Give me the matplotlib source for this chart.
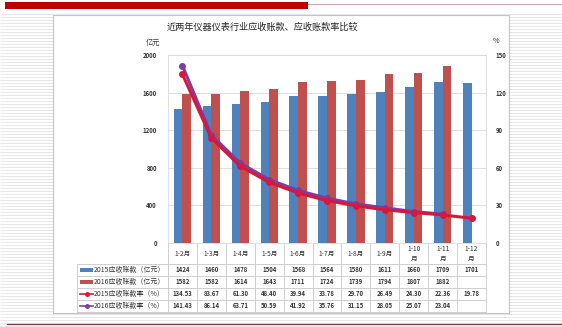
import numpy as np
import matplotlib.pyplot as plt
from matplotlib.patches import Rectangle
from matplotlib.transforms import blended_transform_factory

plt.rcParams['font.family'] = ['Noto Sans CJK SC', 'DejaVu Sans']

categories = ['1-2月', '1-3月', '1-4月', '1-5月', '1-6月', '1-7月', '1-8月',
              '1-9月', '1-10\n月', '1-11\n月', '1-12\n月']
recv_2015 = [1424, 1460, 1478, 1504, 1568, 1564, 1580, 1611, 1660, 1709, 1701]
recv_2016 = [1582, 1582, 1614, 1643, 1711, 1724, 1739, 1794, 1807, 1882]
rate_2015 = [134.53, 83.67, 61.30, 48.40, 39.94, 33.78, 29.70, 26.49, 24.30, 22.36, 19.78]
rate_2016 = [141.43, 86.14, 63.71, 50.59, 41.92, 35.76, 31.15, 28.05, 25.07, 23.04]

row_names = ['2015应收账款（亿元）', '2016应收账款（亿元）',
             '2015应收账款率（%）', '2016应收账款率（%）']

BLUE = '#4F81BD'
RED = '#C0504D'
LINE_RED = '#D8173C'
LINE_PURPLE = '#7A3FA0'
GRID = '#d9d9d9'

W, H = 562, 327
fig = plt.figure(figsize=(W / 100, H / 100), dpi=100)

# slide background in pixel coordinates
bg = fig.add_axes([0, 0, 1, 1], zorder=-10)
bg.set_xlim(0, W)
bg.set_ylim(H, 0)
bg.axis('off')
bg.hlines(np.arange(1.5, H, 3), 0, W, color='#e3e3e3', lw=0.6, zorder=0)
bg.add_patch(Rectangle((0, 0), W, 12, color='white', lw=0, zorder=1))
bg.add_patch(Rectangle((5, 2), 303, 7, color='#C00000', lw=0, zorder=2))
bg.plot([308, W], [3.5, 3.5], color='#c09a9a', lw=0.6, zorder=2)
bg.plot([7, W], [324, 324], color='#7a3c3c', lw=0.9, zorder=2)
bg.add_patch(Rectangle((53, 15), 456, 298, facecolor='white',
                       edgecolor='#c4c4c4', lw=0.8, zorder=3))

bg.text(262, 27, '近两年仪器仪表行业应收账款、应收账款率比较',
        ha='center', va='center', fontsize=6.6, color='#222222', zorder=5)
bg.text(153, 43, '亿元', ha='center', va='center', fontsize=5.2,
        color='#333333', zorder=5)
bg.text(496, 41, '%', ha='center', va='center', fontsize=5.2,
        color='#333333', zorder=5)

# main plot area
L, R, T, B = 168, 486, 55, 243
ax = fig.add_axes([L / W, 1 - B / H, (R - L) / W, (B - T) / H])
x = np.arange(len(categories))
ax.bar(x - 0.15, recv_2015, 0.3, color=BLUE, zorder=2)
ax.bar(x[:len(recv_2016)] + 0.15, recv_2016, 0.3, color=RED, zorder=2)
ax.set_xlim(-0.5, len(categories) - 0.5)
ax.set_ylim(0, 2000)
ax.set_yticks(np.arange(0, 2001, 400))
ax.set_xticks([])
ax.grid(axis='y', color=GRID, lw=0.6, zorder=0)
ax.set_axisbelow(True)
for s in ax.spines.values():
    s.set_color(GRID)
    s.set_linewidth(0.6)
ax.tick_params(axis='y', length=0, pad=8, labelsize=4.3, labelcolor='#333333')
for lab in ax.get_yticklabels():
    lab.set_fontweight('bold')

ax2 = ax.twinx()
ax2.plot(x[:len(rate_2016)], rate_2016, color=LINE_PURPLE, lw=2.2,
         marker='o', ms=4, zorder=3)
ax2.plot(x, rate_2015, color=LINE_RED, lw=2.2, marker='o', ms=4, zorder=4)
ax2.set_ylim(0, 150)
ax2.set_yticks(np.arange(0, 151, 30))
ax2.tick_params(axis='y', length=0, pad=7, labelsize=4.3, labelcolor='#333333')
for lab in ax2.get_yticklabels():
    lab.set_fontweight('bold')
for s in ax2.spines.values():
    s.set_visible(False)

# data table under the plot
col_t = blended_transform_factory(ax.transData, fig.transFigure)


def fy(y):
    return 1 - y / H


rows_y = [264, 276, 288, 300, 312]
TBL = '#c8c8c8'
for k in range(len(categories) + 1):
    ax.plot([k - 0.5, k - 0.5], [fy(B), fy(rows_y[-1])], transform=col_t,
            color=TBL, lw=0.6, clip_on=False)
bg.plot([77, 77], [rows_y[0], rows_y[-1]], color=TBL, lw=0.6, zorder=4)
for y in rows_y:
    bg.plot([77, R], [y, y], color=TBL, lw=0.6, zorder=4)

for i, c in enumerate(categories):
    ax.text(i, fy(254), c, transform=col_t, ha='center', va='center',
            fontsize=4.8, linespacing=1.2, color='#333333')

table_vals = [recv_2015, recv_2016, rate_2015, rate_2016]
for r, vals in enumerate(table_vals):
    yc = fy((rows_y[r] + rows_y[r + 1]) / 2)
    for i, v in enumerate(vals):
        s = f'{v:.2f}' if r >= 2 else f'{v}'
        ax.text(i, yc, s, transform=col_t, ha='center', va='center',
                fontsize=4.3, fontweight='bold', color='#333333')

# row labels with legend keys
for r, name in enumerate(row_names):
    yc = (rows_y[r] + rows_y[r + 1]) / 2
    if r < 2:
        bg.add_patch(Rectangle((80, yc - 2), 13, 4, color=[BLUE, RED][r],
                               lw=0, zorder=5))
    else:
        col = [LINE_RED, LINE_PURPLE][r - 2]
        bg.plot([80, 93], [yc, yc], color=col, lw=1.2, zorder=5)
        bg.plot([86.5], [yc], marker='o', ms=2.5, color=col, zorder=5)
    bg.text(94, yc, name, ha='left', va='center', fontsize=5,
            color='#333333', zorder=5)

fig.savefig('out.png', dpi=100)
